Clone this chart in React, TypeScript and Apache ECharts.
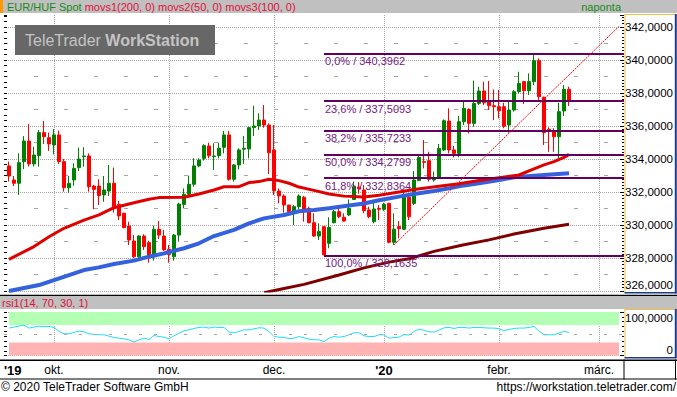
import React, { useEffect, useRef } from 'react';
import * as echarts from 'echarts';

// ---------- data ----------
const SLOT_COUNT = 125; // one slot per trading day (plus empty slots on both sides)
const categories = Array.from({ length: SLOT_COUNT }, (_, i) => String(i));
const FIRST_INDEX = 1;

// [open, close, low, high] from 18 Sep 2019 to 21 Feb 2020
const ohlc: number[][] = [
  [333.58, 332.97, 332.63, 333.84], [332.73, 332.53, 332.36, 332.97], [332.53, 333.78, 331.82, 334.34],
  [333.84, 335.09, 333.39, 335.39], [335.09, 333.70, 333.54, 336.12], [333.70, 334.24, 333.54, 334.75],
  [334.20, 335.60, 333.54, 335.76], [335.60, 335.35, 334.91, 336.30], [335.29, 334.91, 334.49, 335.60],
  [334.85, 335.46, 334.28, 335.82], [335.46, 333.84, 333.70, 335.72], [333.84, 332.26, 332.02, 334.00],
  [332.26, 332.53, 331.96, 332.97], [332.73, 333.43, 332.38, 333.74], [333.48, 334.00, 333.27, 334.69],
  [334.14, 334.18, 333.54, 334.71], [334.18, 332.32, 332.02, 334.34], [332.36, 332.16, 330.95, 332.42],
  [332.36, 331.78, 331.21, 332.77], [331.82, 332.12, 331.41, 332.97], [332.06, 332.53, 331.76, 333.64],
  [332.53, 331.11, 330.75, 333.48], [331.25, 330.55, 330.30, 331.45], [330.71, 329.84, 329.80, 330.75],
  [329.94, 329.09, 328.79, 330.20], [329.03, 328.08, 327.98, 329.39], [328.08, 329.33, 327.98, 329.39],
  [329.33, 328.69, 328.49, 329.44], [328.93, 328.08, 327.72, 329.05], [328.08, 329.74, 327.84, 329.96],
  [329.74, 329.39, 329.15, 330.24], [329.33, 328.49, 328.45, 329.70], [328.53, 328.22, 327.72, 328.79],
  [328.08, 329.39, 327.84, 329.46], [329.39, 331.27, 328.99, 331.35], [331.25, 331.86, 331.01, 332.22],
  [331.86, 332.47, 331.76, 332.99], [332.47, 333.58, 332.32, 334.04], [333.58, 333.94, 333.50, 334.04],
  [334.04, 334.81, 333.90, 334.89], [334.79, 334.20, 334.04, 334.99], [334.14, 334.18, 333.33, 334.95],
  [334.20, 334.65, 334.04, 334.99], [334.71, 335.46, 334.34, 335.70], [335.46, 332.77, 332.69, 335.70],
  [332.77, 333.64, 332.63, 333.70], [333.64, 334.55, 333.37, 334.65], [334.59, 334.65, 333.70, 335.39],
  [334.61, 335.90, 334.04, 335.96], [335.90, 336.00, 335.39, 337.23], [336.00, 336.36, 335.76, 336.77],
  [336.36, 336.06, 335.90, 337.27], [336.06, 334.38, 333.09, 336.16], [334.55, 332.08, 331.82, 336.06],
  [332.06, 331.76, 331.31, 332.22], [331.76, 331.21, 330.75, 331.86], [331.21, 330.81, 330.55, 331.21],
  [330.77, 331.11, 330.00, 331.21], [331.11, 331.76, 330.95, 331.86], [331.68, 330.91, 330.20, 331.76],
  [331.01, 330.14, 330.10, 331.11], [330.14, 329.33, 329.29, 330.71], [329.33, 329.60, 329.09, 330.10],
  [329.90, 328.20, 328.1635, 329.90], [328.89, 329.86, 328.59, 330.47], [330.14, 330.81, 330.10, 330.91],
  [330.81, 330.51, 330.41, 331.11], [330.47, 330.24, 330.20, 330.71], [330.61, 331.01, 330.55, 331.55],
  [331.55, 332.32, 331.52, 332.63], [332.30, 332.20, 331.90, 332.60], [332.12, 330.87, 330.71, 332.42],
  [330.91, 330.51, 330.40, 331.11], [330.20, 330.97, 330.10, 331.41], [331.01, 330.95, 330.30, 331.21],
  [330.95, 331.25, 330.85, 331.35], [331.31, 328.95, 328.89, 331.35], [328.95, 329.75, 328.79, 330.71],
  [329.90, 329.78, 329.19, 330.24], [329.74, 331.68, 329.70, 332.02], [331.68, 330.50, 330.30, 331.92],
  [331.31, 332.73, 331.21, 333.27], [332.69, 334.10, 332.69, 334.18], [333.84, 333.80, 333.43, 335.15],
  [333.90, 332.77, 332.63, 334.44], [332.73, 332.77, 332.63, 333.23], [332.87, 334.63, 332.83, 334.91],
  [334.55, 336.32, 334.48, 336.40], [336.30, 334.55, 334.34, 337.07], [334.55, 334.34, 334.10, 334.79],
  [334.34, 336.26, 334.10, 336.61], [336.26, 337.07, 336.06, 337.58], [337.01, 336.16, 335.55, 337.07],
  [336.16, 337.37, 335.96, 338.75], [337.37, 338.12, 337.27, 338.38], [338.12, 337.41, 337.27, 338.69],
  [337.47, 337.23, 336.97, 338.73], [337.23, 337.17, 336.36, 338.22], [337.17, 336.93, 336.46, 338.18],
  [337.17, 335.99, 335.86, 337.41], [336.06, 336.97, 335.59, 337.47], [336.97, 338.08, 336.87, 338.18],
  [338.08, 338.59, 337.98, 339.29], [338.69, 338.14, 337.33, 338.69], [338.14, 338.69, 337.88, 339.19],
  [338.69, 339.96, 338.48, 340.3962], [339.96, 337.78, 337.47, 340.10], [337.74, 335.60, 334.85, 337.78],
  [335.80, 335.66, 334.44, 335.92], [335.72, 335.35, 334.44, 335.86], [335.35, 336.87, 334.04, 337.41],
  [336.91, 338.22, 336.61, 338.48], [338.22, 337.4989, 337.21, 338.38],
];

const rsi: number[] = [
  63.1, 65.4, 67.7, 70.0, 63.1, 65.4, 67.7, 66.1, 66.9, 64.6,
  55.4, 50.0, 50.0, 53.1, 56.2, 54.6, 50.0, 48.5, 47.7, 47.7,
  44.6, 41.5, 40.0, 38.5, 36.2, 30.8, 36.2, 40.0, 36.9, 46.2,
  43.8, 42.3, 38.5, 45.4, 51.5, 56.9, 59.2, 62.3, 64.6, 65.4,
  63.1, 65.4, 64.6, 64.6, 53.8, 52.3, 55.4, 59.2, 59.2, 61.5,
  63.8, 63.1, 55.4, 43.8, 42.3, 41.5, 39.2, 40.0, 43.8, 40.8,
  37.7, 36.2, 36.2, 32.3, 40.0, 43.8, 42.3, 43.8, 47.7, 52.3,
  52.3, 45.4, 43.8, 43.8, 47.7, 47.7, 40.0, 41.5, 42.3, 48.5,
  46.9, 55.4, 60.8, 57.7, 54.6, 53.8, 58.5, 63.8, 64.6, 62.3,
  64.6, 64.6, 63.1, 64.6, 64.6, 63.8, 63.1, 63.1, 61.5, 56.9,
  60.0, 62.3, 63.1, 63.1, 64.6, 66.9, 56.2, 47.7, 47.7, 47.7,
  51.5, 55.4, 53.1,
];

// moving averages [slot index, value]
const movs1: number[][] = [
  [52, 325.9], [56, 326.15], [60, 326.4], [67, 326.97], [72, 327.4], [77, 327.75], [81, 327.95],
  [86, 328.4], [92, 328.8], [97, 329.1], [102, 329.45], [108, 329.8], [113, 330.04],
];
const movs2: number[][] = [
  [1, 327.92], [6, 328.69], [9, 329.29], [12, 329.8], [16, 330.3], [19, 330.61], [22, 331.05],
  [26, 331.35], [29, 331.56], [31, 331.66], [36, 331.68], [39, 331.88], [42, 332.12], [44, 332.32],
  [47, 332.32], [49, 332.57], [51, 332.63], [53, 332.77], [55, 332.69], [57, 332.53], [59, 332.3],
  [62, 332.1], [65, 331.88], [68, 331.75], [72, 331.7], [75, 331.8], [79, 332.0], [82, 332.15],
  [87, 332.35], [91, 332.5], [95, 332.7], [99, 332.87], [103, 333.03], [106, 333.4], [108, 333.64],
  [110, 333.84], [112, 334.1], [113, 334.28],
];
const movs3: number[][] = [
  [1, 326.0], [7, 326.36], [16, 327.27], [19, 327.43], [22, 327.64], [26, 327.84], [29, 328.08],
  [32, 328.28], [36, 328.59], [39, 328.89], [42, 329.33], [46, 329.7], [49, 330.1], [52, 330.4],
  [56, 330.61], [59, 330.83], [62, 330.91], [65, 331.01], [69, 331.18], [72, 331.3], [75, 331.5],
  [79, 331.72], [82, 331.88], [86, 332.06], [89, 332.22], [92, 332.4], [95, 332.53], [99, 332.73],
  [102, 332.89], [108, 333.03], [113, 333.13],
];

const fibPct = [0, 23.6, 38.2, 50, 61.8, 100];
const fibValue = [340.3962, 337.5093, 335.7233, 334.2799, 332.8364, 328.1635];
const fibStartIndex = 64;

const trendLine: number[][] = [[78, 328.79], [123, 342.04]];

const monthGridIndex = [10, 33, 54, 76, 99, 119];
const axisLabelText: Record<number, string> = {
  0: "'19", 10: 'okt.', 33: 'nov.', 54: 'dec.', 76: "'20", 99: 'febr.', 119: 'márc.',
};
const yearLabelIndex = [0, 76];

const lastClose = 337.4989;

// ---------- styles ----------
const FONT = '"Liberation Sans", Arial, sans-serif';
const GRID = '#a6a6a6';
const Y_MIN = 326;
const Y_MAX = 326 + 276 / 16.5;
const fmt = (v: number, d: number) => v.toFixed(d).replace('.', ',');

export default function App() {
  const ref = useRef<HTMLDivElement>(null);

  useEffect(() => {
    if (!ref.current) return;
    const chart = echarts.init(ref.current, null, { renderer: 'svg' });

    const xSplit = {
      show: true,
      interval: (i: number) => monthGridIndex.includes(i),
      lineStyle: { type: 'dotted', color: GRID, width: 1 },
    };

    const fibLines = fibValue.map((v, k) => [
      {
        coord: [fibStartIndex, v],
        lineStyle: { color: '#600060', width: 2, type: 'solid' },
        label: {
          show: true,
          position: 'insideStartBottom',
          formatter: `${fmt(fibPct[k], 1)}% / ${fmt(v, 4)}`,
          color: '#74207f',
          fontSize: 11,
          fontFamily: FONT,
          distance: [1, 2],
        },
      },
      { coord: [SLOT_COUNT - 1, v] },
    ]);

    const option: any = {
      animation: false,
      backgroundColor: '#ffffff',
      grid: [
        { left: 4, right: 53, top: 15, height: 276, outerBoundsMode: 'none' },
        { left: 4, right: 53, top: 312, height: 43.6, outerBoundsMode: 'none' },
      ],
      xAxis: [
        {
          type: 'category', gridIndex: 0, data: categories, boundaryGap: false,
          axisLine: { show: false }, axisTick: { show: false }, axisLabel: { show: false },
          splitLine: xSplit,
        },
        {
          type: 'category', gridIndex: 1, data: categories, boundaryGap: false,
          axisLine: { show: false }, axisTick: { show: false },
          axisLabel: {
            show: true,
            interval: (i: number) => axisLabelText[i] !== undefined,
            formatter: (_v: string, i: number) =>
              yearLabelIndex.includes(i) ? `{y|${axisLabelText[i]}}` : (axisLabelText[i] ?? ''),
            margin: 8,
            color: '#000',
            fontSize: 12,
            fontFamily: FONT,
            alignMinLabel: 'left',
            hideOverlap: false,
            rich: { y: { fontWeight: 'bold', fontSize: 13, fontFamily: FONT, color: '#000' } },
          },
          splitLine: xSplit,
        },
      ],
      yAxis: [
        {
          type: 'value', gridIndex: 0, position: 'right', min: Y_MIN, max: Y_MAX, interval: 2,
          axisLine: { show: false },
          axisTick: { show: true, inside: true, length: 4, lineStyle: { color: '#000' } },
          minorTick: { show: true, splitNumber: 10, length: 2, lineStyle: { color: '#000' } },
          axisLabel: {
            formatter: (v: number) =>
              Math.abs(v - Math.round(v)) < 1e-6 && Math.round(v) % 2 === 0 ? fmt(v, 4) : '',
            align: 'right', margin: 49, color: '#000', fontSize: 11.5, fontFamily: FONT,
            verticalAlignMinLabel: 'bottom', showMaxLabel: false,
          },
          splitLine: { show: true, showMaxLine: false, lineStyle: { type: 'dotted', color: GRID } },
        },
        {
          type: 'value', gridIndex: 0, position: 'left', min: Y_MIN, max: Y_MAX, interval: 2,
          axisLine: { show: false }, axisLabel: { show: false }, splitLine: { show: false },
          axisTick: { show: true, inside: true, length: 3, lineStyle: { color: '#000' } },
          minorTick: { show: true, splitNumber: 6, length: 3, lineStyle: { color: '#000' } },
        },
        {
          type: 'value', gridIndex: 0, position: 'right', min: Y_MIN, max: Y_MAX, interval: 2,
          axisLine: { show: false }, axisLabel: { show: false }, axisTick: { show: false },
          splitLine: { show: false },
          minorTick: { show: false, splitNumber: 2 },
          minorSplitLine: { show: true, lineStyle: { type: [4, 26], color: GRID, width: 1 } },
        },
        {
          type: 'value', gridIndex: 1, position: 'right', min: 0, max: 100, interval: 100,
          axisLine: { show: false },
          axisTick: { show: true, inside: true, length: 4, lineStyle: { color: '#000' } },
          minorTick: { show: true, splitNumber: 9, length: 2, lineStyle: { color: '#000' } },
          axisLabel: {
            formatter: (v: number) => (v === 100 ? fmt(100, 4) : v === 0 ? '0' : ''),
            align: 'right', margin: 49, color: '#000', fontSize: 11.5, fontFamily: FONT,
            verticalAlignMinLabel: 'bottom', verticalAlignMaxLabel: 'top',
          },
          splitLine: { show: true, lineStyle: { type: 'dotted', color: GRID } },
        },
        {
          type: 'value', gridIndex: 1, position: 'left', min: 0, max: 100, interval: 100,
          axisLine: { show: false }, axisLabel: { show: false }, splitLine: { show: false },
          axisTick: { show: true, inside: true, length: 3, lineStyle: { color: '#000' } },
          minorTick: { show: true, splitNumber: 9, length: 3, lineStyle: { color: '#000' } },
        },
      ],
      series: [
        {
          type: 'candlestick', name: 'EUR/HUF', xAxisIndex: 0, yAxisIndex: 0,
          data: ohlc.map((d, k) => [k + FIRST_INDEX, ...d]),
          encode: { x: 0, y: [1, 2, 3, 4] },
          barWidth: 3.2,
          itemStyle: {
            color: '#008000', color0: '#ff0000', borderColor: '#008000', borderColor0: '#ff0000', borderWidth: 1,
          },
          z: 2,
          markLine: {
            silent: true, symbol: ['none', 'none'], animation: false,
            data: [
              ...fibLines,
              {
                yAxis: lastClose,
                lineStyle: { opacity: 0, width: 0 },
                label: {
                  show: true, position: 'end', formatter: fmt(lastClose, 4),
                  backgroundColor: '#000', color: '#fff', padding: [2, 2, 1, 2],
                  fontSize: 11.5, fontFamily: FONT, distance: 2,
                },
              },
            ],
          },
        },
        {
          type: 'line', name: 'movs1', xAxisIndex: 0, yAxisIndex: 0, data: movs1,
          symbol: 'none', lineStyle: { color: '#800000', width: 3 }, z: 3,
        },
        {
          type: 'line', name: 'movs3', xAxisIndex: 0, yAxisIndex: 0, data: movs3,
          symbol: 'none', lineStyle: { color: '#3462dc', width: 4 }, z: 3,
        },
        {
          type: 'line', name: 'movs2', xAxisIndex: 0, yAxisIndex: 0, data: movs2,
          symbol: 'none', lineStyle: { color: '#e00000', width: 3 }, z: 4,
        },
        {
          type: 'line', name: 'trend', xAxisIndex: 0, yAxisIndex: 0, data: trendLine,
          symbol: 'none', lineStyle: { color: '#ff0000', width: 1, type: [2, 1] }, z: 5,
        },
        {
          type: 'line', name: 'rsi1', xAxisIndex: 1, yAxisIndex: 3,
          data: rsi.map((v, k) => [k + FIRST_INDEX, v]),
          symbol: 'none', lineStyle: { color: '#1ee0f5', width: 1 }, z: 4,
          markArea: {
            silent: true,
            data: [
              [{ coord: [1, 70], itemStyle: { color: '#b3ffb3' } }, { coord: [123, 100] }],
              [{ coord: [1, 0], itemStyle: { color: '#ffb3b3' } }, { coord: [123, 30] }],
            ],
          },
          markLine: {
            silent: true, symbol: ['none', 'none'], label: { show: false },
            data: [{ yAxis: 50 }],
            lineStyle: { type: [3, 12], color: GRID, width: 1 },
          },
        },
      ],
      graphic: [
        // header bar
        { type: 'rect', z: 50, shape: { x: 0, y: 0, width: 677, height: 13 }, style: { fill: '#c0c0c0' } },
        { type: 'rect', z: 51, shape: { x: 0, y: 0, width: 3, height: 13 }, style: { fill: '#ff9900' } },
        {
          type: 'text', z: 52, x: 7, y: 7,
          style: {
            text: '{g|EUR/HUF Spot} {r|movs1(200, 0) movs2(50, 0) movs3(100, 0)}',
            verticalAlign: 'middle', align: 'left', fontSize: 11, fontFamily: FONT,
            rich: {
              g: { fill: '#178a17', fontSize: 11, fontFamily: FONT },
              r: { fill: '#e2103a', fontSize: 11, fontFamily: FONT },
            },
          },
        },
        {
          type: 'text', z: 52, x: 621, y: 7,
          style: { text: 'naponta', fill: '#178a17', fontSize: 11, fontFamily: FONT, align: 'right', verticalAlign: 'middle' },
        },
        // watermark
        { type: 'rect', z: 50, shape: { x: 15, y: 25, width: 200, height: 30 }, style: { fill: '#676767' } },
        {
          type: 'text', z: 51, x: 25, y: 40,
          style: {
            text: 'TeleTrader {b|WorkStation}', fill: '#c4c4c4', fontSize: 16, fontFamily: FONT,
            verticalAlign: 'middle', align: 'left',
            rich: { b: { fill: '#c4c4c4', fontSize: 16, fontWeight: 'bold', fontFamily: FONT } },
          },
        },
        // main price axis box
        { type: 'rect', z: 50, shape: { x: 624.5, y: 14, width: 1, height: 279 }, style: { fill: '#f0c040' } },
        { type: 'rect', z: 50, shape: { x: 624.5, y: 14, width: 52, height: 1 }, style: { fill: '#f0c040' } },
        { type: 'rect', z: 50, shape: { x: 674.8, y: 14, width: 2, height: 279.5 }, style: { fill: '#1c3a8c' } },
        { type: 'rect', z: 50, shape: { x: 624.5, y: 292, width: 52, height: 1.5 }, style: { fill: '#1c3a8c' } },
        // separator + rsi header
        { type: 'rect', z: 50, shape: { x: 0, y: 294.8, width: 677, height: 1.5 }, style: { fill: '#000' } },
        { type: 'rect', z: 50, shape: { x: 0, y: 296.3, width: 677, height: 12.7 }, style: { fill: '#c0c0c0' } },
        {
          type: 'text', z: 52, x: 2, y: 303,
          style: { text: 'rsi1(14, 70, 30, 1)', fill: '#e2103a', fontSize: 11, fontFamily: FONT, align: 'left', verticalAlign: 'middle' },
        },
        // rsi axis box
        { type: 'rect', z: 50, shape: { x: 624.5, y: 309, width: 1, height: 49 }, style: { fill: '#f0c040' } },
        { type: 'rect', z: 50, shape: { x: 624.5, y: 309, width: 52, height: 1 }, style: { fill: '#f0c040' } },
        { type: 'rect', z: 50, shape: { x: 674.8, y: 309, width: 2, height: 49 }, style: { fill: '#1c3a8c' } },
        { type: 'rect', z: 50, shape: { x: 624.5, y: 357, width: 52, height: 1.5 }, style: { fill: '#1c3a8c' } },
        // time axis band
        { type: 'rect', z: 50, shape: { x: 0, y: 359.5, width: 677, height: 1.5 }, style: { fill: '#000' } },
        { type: 'rect', z: 50, shape: { x: 0, y: 378.5, width: 677, height: 1 }, style: { fill: '#000' } },
        { type: 'rect', z: 50, shape: { x: 623.5, y: 359.5, width: 1, height: 20 }, style: { fill: '#000' } },
        { type: 'rect', z: 50, shape: { x: 675, y: 359.5, width: 1, height: 20 }, style: { fill: '#000' } },
        // footer
        {
          type: 'text', z: 52, x: 1, y: 387,
          style: { text: '© 2020 TeleTrader Software GmbH', fill: '#000', fontSize: 12, fontFamily: FONT, align: 'left', verticalAlign: 'middle' },
        },
        {
          type: 'text', z: 52, x: 676, y: 387,
          style: { text: 'https://workstation.teletrader.com/', fill: '#000', fontSize: 12, fontFamily: FONT, align: 'right', verticalAlign: 'middle' },
        },
      ],
    };

    chart.setOption(option);
    return () => chart.dispose();
  }, []);

  return (
    <div
      ref={ref}
      style={{ position: 'fixed', left: 0, top: 0, width: 677, height: 397, background: '#fff' }}
    />
  );
}
